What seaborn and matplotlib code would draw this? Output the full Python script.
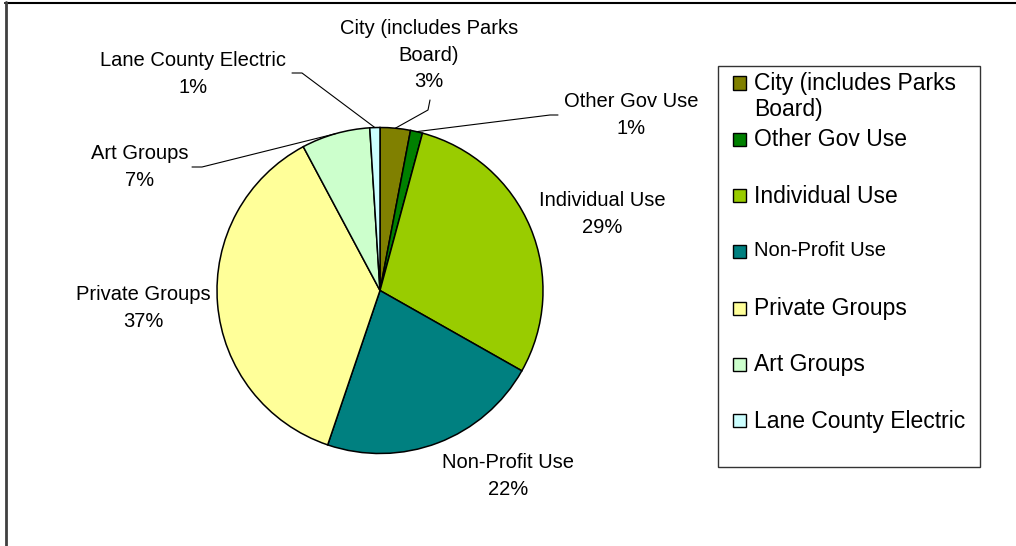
import numpy as np
import matplotlib
matplotlib.use("Agg")
import matplotlib.pyplot as plt
import seaborn as sns
from matplotlib.patches import Rectangle
from matplotlib.lines import Line2D

# --- data ---
categories = ["City (includes Parks\nBoard)", "Other Gov Use", "Individual Use",
              "Non-Profit Use", "Private Groups", "Art Groups", "Lane County Electric"]
shares = [3.0, 1.2, 29.0, 22.0, 37.0, 6.8, 1.0]
pct_labels = ["3%", "1%", "29%", "22%", "37%", "7%", "1%"]
colors = ["#808000", "#008000", "#99CC00", "#008080", "#FFFF99", "#CCFFCC", "#CCFFFF"]

sns.set_style("white")
plt.rcParams["font.family"] = ["Liberation Sans", "DejaVu Sans"]
plt.rcParams["text.color"] = "black"

W, H = 1016, 546
fig = plt.figure(figsize=(W / 100, H / 100), dpi=100)


def fx(px):
    return px / W


def fy(py):
    return 1 - py / H


# pie axes: center (380, 290), radius 163 px
cx, cy, r = 380, 290.5, 163
ax = fig.add_axes([fx(cx - r), fy(cy + r), 2 * r / W, 2 * r / H])
wedges, _ = ax.pie(shares, colors=colors, startangle=90, counterclock=False,
                   wedgeprops=dict(edgecolor="black", linewidth=1.1))
ax.set_xlim(-1, 1)
ax.set_ylim(-1, 1)
ax.set_clip_on(False)


def d(px, py):
    # pixel -> pie data coords
    return ((px - cx) / r, (cy - py) / r)


# label centres (pixels) and leader elbows
label_pos = [(429, 55), (631, 115), (602, 214), (508, 476), (143, 308), (140, 167), (193, 74)]
leaders = {
    0: [(428, 110), (430, 100)],
    1: [(550, 115), (558, 115)],
    5: [(202, 167), (192, 167)],
    6: [(302, 73), (292, 73)],
}

for i, w in enumerate(wedges):
    name = categories[i].replace("\n", " ") if i != 0 else categories[i]
    txt = f"{name}\n{pct_labels[i]}"
    x, y = d(*label_pos[i])
    ax.text(x, y, txt, ha="center", va="center", fontsize=14.5,
            linespacing=1.5, clip_on=False, color="black")
    if i in leaders:
        mid = np.deg2rad((w.theta1 + w.theta2) / 2)
        pts = [(np.cos(mid), np.sin(mid))] + [d(*p) for p in leaders[i]]
        xs, ys = zip(*pts)
        ax.add_line(Line2D(xs, ys, color="black", lw=0.8, clip_on=False))

# legend drawn as a framed box on the figure
fig.add_artist(Rectangle((fx(718), fy(467)), fx(980) - fx(718), fy(66) - fy(467),
                         transform=fig.transFigure, fill=False,
                         edgecolor="#333333", lw=1.0))
row0, step = 83, 56.3
for i, name in enumerate(categories):
    yc = row0 + i * step
    fig.add_artist(Rectangle((fx(733), fy(yc + 6.5)), 13 / W, 13 / H,
                             transform=fig.transFigure, facecolor=colors[i],
                             edgecolor="black", lw=1.0))
    size = 14.5 if name.startswith("Non-Profit") else 16.5
    fig.text(fx(754), fy(yc - 11), name, ha="left", va="top",
             fontsize=size, linespacing=1.17, color="black")

# outer chart frame (top and left edges visible)
fig.add_artist(Line2D([fx(5), 1], [fy(2.5), fy(2.5)], color="black", lw=1.5,
                      transform=fig.transFigure))
fig.add_artist(Line2D([fx(6), fx(6)], [0, fy(2)], color="#404040", lw=2,
                      transform=fig.transFigure))

fig.savefig("out.png", dpi=100, facecolor="white")
